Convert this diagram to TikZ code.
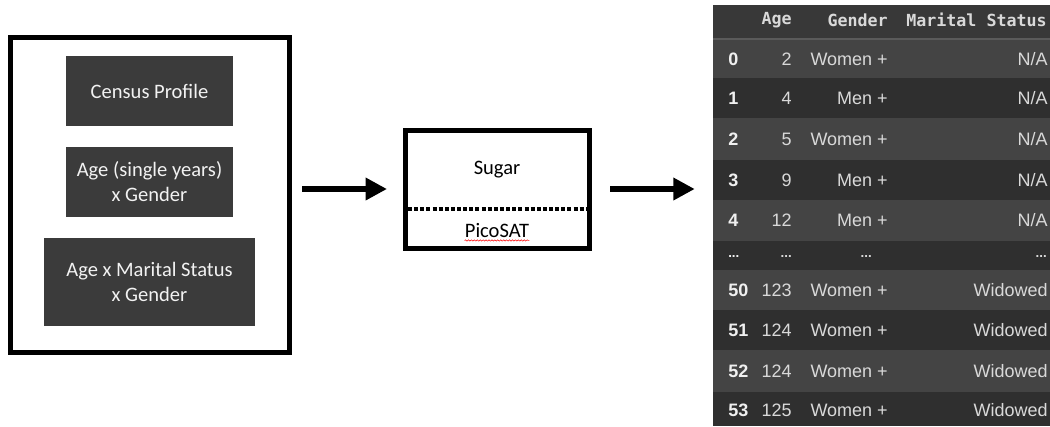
\documentclass[tikz,border=0pt]{standalone}
\usepackage{fontspec}
\setmainfont{Carlito}
\newfontfamily\arialf{Liberation Sans}
\newfontfamily\monof{DejaVu Sans Mono}
\usetikzlibrary{arrows.meta,decorations.pathmorphing}
\definecolor{boxgray}{HTML}{3B3B3B}
\definecolor{boxtext}{HTML}{F2F2F2}
\definecolor{hdrbg}{HTML}{383838}
\definecolor{rowL}{HTML}{444444}
\definecolor{rowD}{HTML}{2F2F2F}
\definecolor{sepc}{HTML}{5A5A5A}
\definecolor{celltext}{HTML}{D9D9D9}
\definecolor{idxtext}{HTML}{F0F0F0}
\newcommand\NA{N/A}
\tikzset{
  framebox/.style={draw=black, line width=3.75pt, fill=white, inner sep=0pt},
  darkbox/.style={fill=boxgray, text=boxtext, inner sep=0pt, align=center,
    font=\fontsize{15.4pt}{18.8pt}\selectfont},
  plain/.style={inner sep=0pt, font=\fontsize{15.4pt}{18.8pt}\selectfont},
  bigarrow/.style={line width=5pt, -{Triangle[length=16pt,width=16pt]}},
  hdr/.style={anchor=east, inner sep=0pt, text=celltext, font=\monof\bfseries\fontsize{12.5pt}{14pt}\selectfont},
  cell/.style={anchor=east, inner sep=0pt, text=celltext, font=\arialf\fontsize{13.5pt}{15pt}\selectfont},
  idx/.style={anchor=west, inner sep=0pt, text=idxtext, font=\arialf\bfseries\fontsize{13.5pt}{15pt}\selectfont},
}
\begin{document}
\begin{tikzpicture}[x=0.75pt,y=-0.75pt]
\useasboundingbox[fill=white] (0,0) rectangle (1050,426);

% left input frame
\node[framebox, minimum width=209.25pt, minimum height=236.6pt] (outer) at (149.5,195.25) {};
\node[darkbox, minimum width=125.25pt, minimum height=52.5pt] (cp) at (149.5,91) {Census Profile};
\node[darkbox, minimum width=125.25pt, minimum height=52.5pt] (ag) at (149.5,182) {Age (single years)\\ x Gender};
\node[darkbox, minimum width=158.25pt, minimum height=66pt] (am) at (149.5,282) {Age x Marital Status\\ x Gender};

% solver box
\node[framebox, minimum width=138pt, minimum height=88.5pt] (solver) at (497.5,189) {};
\node[plain] (sugar) at (497,170) {Sugar};
\node[plain] (pico) at (497,230) {PicoSAT};
\coordinate (dl) at (408,209);
\coordinate (dr) at (587,209);
\draw[line width=2.3pt, dash pattern=on 3pt off 1.6pt] (dl) -- (dr);
\draw[red, line width=0.4pt, decorate, decoration={snake, amplitude=0.5pt, segment length=2.2pt}]
  ([yshift=-2.6pt]pico.base west) -- ([yshift=-2.6pt]pico.base east);

% table
\node[fill=rowD, inner sep=0pt, minimum width=252.75pt, minimum height=315.75pt] (table) at (881.5,215.5) {};
\fill[hdrbg] (713,5) rectangle (1050,38);
\fill[sepc] (713,38) rectangle (1050,40);
\foreach \t/\b/\c in {40/78/rowL,78/118/rowD,118/160/rowL,160/200/rowD,200/241/rowL,241/270/rowD,270/310/rowL,310/350/rowD,350/392/rowL,392/426/rowD}
  \fill[\c] (713,\t) rectangle (1050,\b);
\node[hdr] (hage) at (792,20) {Age};
\node[hdr] (hgen) at (888,20) {Gender};
\node[hdr] (hmar) at (1047,20) {Marital Status};
\foreach \y/\i/\a/\g/\m [count=\k] in {59/0/2/Women +/\NA, 98/1/4/Men +/\NA, 139/2/5/Women +/\NA, 180/3/9/Men +/\NA, 220.5/4/12/Men +/\NA,
  290/50/123/Women +/Widowed, 330/51/124/Women +/Widowed, 371/52/124/Women +/Widowed, 410/53/125/Women +/Widowed}{
  \node[idx] (idx\k) at (728,\y) {\i};
  \node[cell] (age\k) at (792,\y) {\a};
  \node[cell] (gen\k) at (888,\y) {\g};
  \node[cell] (mar\k) at (1048,\y) {\m};
}
\node[idx, font=\arialf\bfseries\fontsize{10pt}{12pt}\selectfont] (didx) at (728,256) {...};
\node[cell, font=\arialf\bfseries\fontsize{10pt}{12pt}\selectfont] (dage) at (792,256) {...};
\node[cell, font=\arialf\bfseries\fontsize{10pt}{12pt}\selectfont] (dgen) at (872,256) {...};
\node[cell, font=\arialf\bfseries\fontsize{10pt}{12pt}\selectfont] (dmar) at (1047,256) {...};

% arrows
\draw[bigarrow, shorten <=8pt, shorten >=12pt] (outer.east |- solver.west) -- (solver.west);
\draw[bigarrow, shorten <=13.5pt, shorten >=13.5pt] (solver.east) -- (table.west |- solver.east);
\end{tikzpicture}
\end{document}
